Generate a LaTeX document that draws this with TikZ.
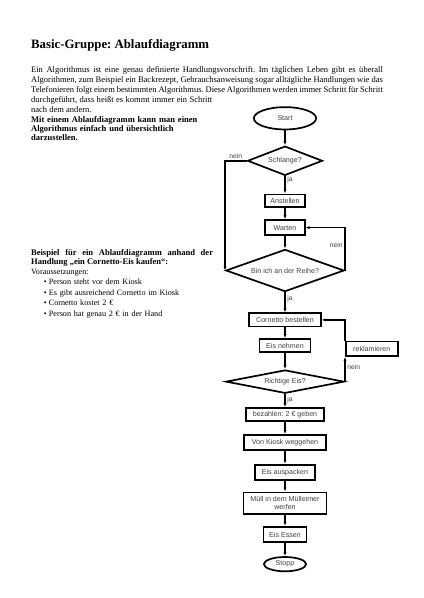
\documentclass[tikz,border=0pt]{standalone}
\usepackage{fontspec}
\setmainfont{Liberation Serif}
\setsansfont{Liberation Sans}
\usepackage{xcolor}
\usetikzlibrary{arrows.meta,positioning,shapes.geometric}
\frenchspacing

\begin{document}
\begin{tikzpicture}[
    x=1.4073pt, y=-1.4073pt,
    node distance=18pt,
    txt/.style={inner sep=0pt, anchor=base west},
    fc/.style={draw, line width=2.4pt, inner sep=1pt, align=center, text=black!75,
      font=\sffamily\fontsize{10}{11}\selectfont},
    box/.style={fc, rectangle},
    oval/.style={fc, ellipse},
    dia/.style={fc, diamond},
    lbl/.style={inner sep=2pt, text=black!75, font=\sffamily\fontsize{9.5}{10}\selectfont},
    ar/.style={-{Latex[length=2mm]}, line width=2.4pt}
  ]
    \useasboundingbox (0,0) rectangle (423,598);

    % Text links
    \node[txt, font=\bfseries\fontsize{18}{20}\selectfont] (title) at (31,48.3) {Basic-Gruppe: Ablaufdiagramm};
    \node[txt, text width=495pt, align=justify, font=\fontsize{12}{14}\selectfont] (intro) at (31,72.4)
      {Ein Algorithmus ist eine genau definierte Handlungsvorschrift. Im täglichen Leben gibt es überall\linebreak
       Algorithmen, zum Beispiel ein Backrezept, Gebrauchsanweisung sogar alltägliche Handlungen wie das\linebreak
       Telefonieren folgt einem bestimmten Algorithmus. Diese Algorithmen werden immer Schritt für Schritt\linebreak
       \makebox[255pt][s]{durchgeführt, dass heißt es kommt immer ein Schritt}\\ nach dem andern.};
    \node[txt, text width=300pt, align=left, font=\bfseries\fontsize{12}{13}\selectfont] (fett) at (31,122.3)
      {Mit einem Ablaufdiagramm kann man einen\\ Algorithmus einfach und übersichtlich\\ darzustellen.};
    \node[txt, text width=256pt, align=justify, font=\bfseries\fontsize{12}{13.2}\selectfont] (bsp) at (31,255)
      {Beispiel für ein Ablaufdiagramm anhand der\linebreak Handlung „ein Cornetto-Eis kaufen“:};
    \node[txt, text width=300pt, align=left, font=\fontsize{11.5}{14.8}\selectfont] (vor) at (31,274.4)
      {Voraussetzungen:\\
       \hspace*{18pt}\makebox[7pt][l]{\textbullet}Person steht vor dem Kiosk\\
       \hspace*{18pt}\makebox[7pt][l]{\textbullet}Es gibt ausreichend Cornetto im Kiosk\\
       \hspace*{18pt}\makebox[7pt][l]{\textbullet}Cornetto kostet 2 €\\
       \hspace*{18pt}\makebox[7pt][l]{\textbullet}Person hat genau 2 € in der Hand};

    % Ablaufdiagramm
    \node[oval, minimum width=87.6pt, minimum height=31.4pt] (start) at (285,118.3) {Start};
    \node[dia, aspect=2.5, minimum width=105.4pt, minimum height=41.2pt, below=21.1pt of start] (schlange) {Schlange?};
    \node[box, minimum width=55.4pt, minimum height=17.3pt, below=24.3pt of schlange] (anstellen) {Anstellen};
    \node[box, minimum width=55.4pt, minimum height=21.1pt, below=16.5pt of anstellen] (warten) {Warten};
    \node[dia, aspect=2.7, minimum width=166.4pt, minimum height=59.4pt, below=17.7pt of warten] (reihe) {Bin ich an der Reihe?};
    \node[box, minimum width=100.4pt, minimum height=18.7pt, below=28.1pt of reihe] (bestellen) {Cornetto bestellen};
    \node[box, minimum width=71.4pt, minimum height=18.7pt, below=15.1pt of bestellen] (nehmen) {Eis nehmen};
    \node[dia, aspect=4.8, minimum width=166.4pt, minimum height=32.8pt, below=22.5pt of nehmen] (richtig) {Richtige Eis?};
    \node[box, minimum width=73pt, minimum height=20.5pt, above right=35pt and 0pt of richtig.east] (rekl) {reklamieren};
    \node[box, minimum width=110.2pt, minimum height=18.7pt, below=18.3pt of richtig] (bezahlen) {bezahlen: 2 € geben};
    \node[box, minimum width=115pt, minimum height=21.1pt, below=16.9pt of bezahlen] (weggehen) {Von Kiosk weggehen};
    \node[box, minimum width=84.9pt, minimum height=21.1pt, below=18.3pt of weggehen] (auspacken) {Eis auspacken};
    \node[box, minimum width=116.8pt, minimum height=30.4pt, below=15.5pt of auspacken] (muell) {Müll in dem Mülleimer\\werfen};
    \node[box, minimum width=60.9pt, minimum height=21.9pt, below=15.5pt of muell] (essen) {Eis Essen};
    \node[oval, minimum width=59.4pt, minimum height=20.1pt, below=18.3pt of essen] (stopp) {Stopp};

    \draw[ar] (start) -- (schlange);
    \draw[ar] (schlange) -- node[lbl, right, pos=0.2] (ja1) {ja} (anstellen);
    \draw[ar] (anstellen) -- (warten);
    \draw[ar] (warten) -- (reihe);
    \draw[ar] (reihe) -- node[lbl, right, pos=0.3] (ja2) {ja} (bestellen);
    \draw[ar] (bestellen) -- (nehmen);
    \draw[ar] (nehmen) -- (richtig);
    \draw[ar] (richtig) -- node[lbl, right, pos=0.4] (ja3) {ja} (bezahlen);
    \draw[ar] (bezahlen) -- (weggehen);
    \draw[ar] (weggehen) -- (auspacken);
    \draw[ar] (auspacken) -- (muell);
    \draw[ar] (muell) -- (essen);
    \draw[ar] (essen) -- (stopp);
    \draw[ar] (schlange.west) -| node[lbl, above, pos=0.25] (nein1) {nein} (reihe.west);
    \draw[ar] (reihe.east) |- node[lbl, left, pos=0.3] (nein2) {nein} (warten.east);
    \draw[ar] (richtig.east) -- node[lbl, right, pos=0.6] (nein3) {nein} (rekl.south west);
    \draw[ar] (rekl.north west) |- (bestellen.east);
  \end{tikzpicture}
\end{document}
